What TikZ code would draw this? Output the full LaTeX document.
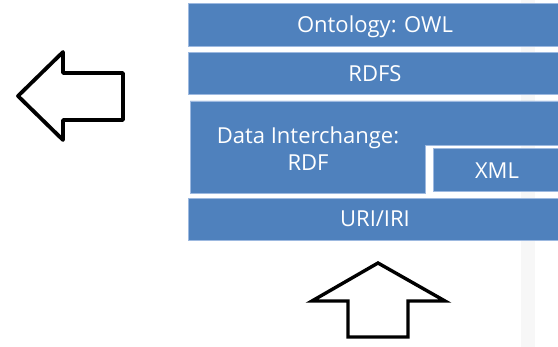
\documentclass[tikz,border=0pt]{standalone}
\usepackage{fontspec}
\setmainfont{Open Sans}
\definecolor{layerblue}{HTML}{4F81BD}
\definecolor{layeredge}{HTML}{9DB9E0}
\definecolor{faintgray}{HTML}{F7F7F7}
\tikzset{
  layer/.style={fill=layerblue, draw=layeredge, line width=0.8pt},
  layertext/.style={text=white, font=\fontsize{22}{24}\selectfont, inner sep=0pt, anchor=center},
  hollowarrow/.style={draw=black, fill=white, line width=3.8pt},
}
\begin{document}
\begin{tikzpicture}[x=1pt,y=-1pt]
  \useasboundingbox (0,0) rectangle (558,347);
  \begin{scope}
    \clip (0,0) rectangle (558,347);
    % faint background strip on the right
    \fill[faintgray] (521,0) rectangle (535,347);

    % stack of layers
    \path[layer] (188,3) rectangle (562,46);
    \node[layertext] (owl) at (375,26.5) {Ontology: OWL};

    \path[layer] (188,52) rectangle (562,94);
    \node[layertext] (rdfs) at (375,74) {RDFS};

    \path[layer] (190,101) -- (562,101) -- (562,145) -- (425,145) -- (425,193) -- (190,193) -- cycle;
    \node[layertext, align=center] (rdf) at (308,149) {Data Interchange:\\[3pt]RDF};

    \path[layer] (433,148) rectangle (562,191);
    \node[layertext] (xml) at (497,171) {XML};

    \path[layer] (188,198) rectangle (562,240);
    \node[layertext] (uri) at (375,219) {URI/IRI};
  \end{scope}

  % hollow arrow pointing left
  \draw[hollowarrow, line join=round]
    (18,96) -- (63,52) -- (63,73) -- (123,73) -- (123,120) -- (63,120) -- (63,140) -- cycle;

  % hollow arrow pointing up
  \draw[hollowarrow, line width=3.4pt, line join=miter]
    (378,263) -- (445,301) -- (408,301) -- (408,337) -- (348,337) -- (348,301) -- (312,301) -- cycle;
\end{tikzpicture}
\end{document}
